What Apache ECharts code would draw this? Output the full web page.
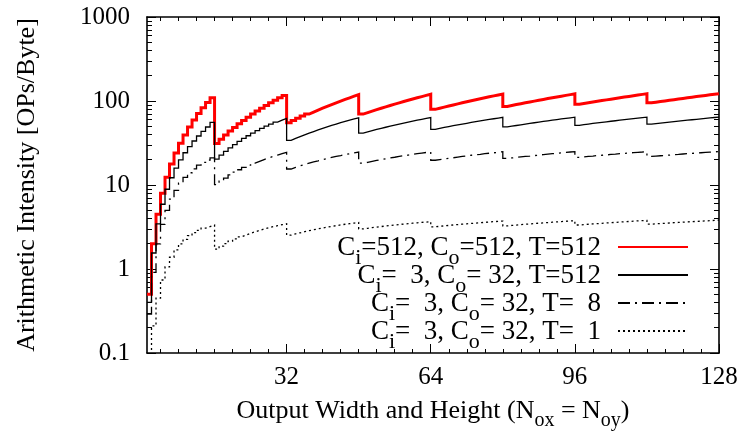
<!DOCTYPE html>
<html><head><meta charset="utf-8">
<script src="https://cdn.jsdelivr.net/npm/echarts@6/dist/echarts.min.js"></script>
<style>html,body{margin:0;padding:0;background:#fff}#c{width:746px;height:440px}</style>
</head><body><div id="c"></div>
<script>
const N = [1,2,3,4,5,6,7,8,9,10,11,12,13,14,15,16,17,18,19,20,21,22,23,24,25,26,27,28,29,30,31,32,
33,34,35,36,37,38,39,40,41,42,43,44,45,46,47,48,49,50,51,52,53,54,55,56,57,58,59,60,61,62,63,64,
65,66,67,68,69,70,71,72,73,74,75,76,77,78,79,80,81,82,83,84,85,86,87,88,89,90,91,92,93,94,95,96,
97,98,99,100,101,102,103,104,105,106,107,108,109,110,111,112,113,114,115,116,117,118,119,120,121,122,123,124,125,126,127,128];

const red = [0.5,2.0,4.5,7.95,12.4,17.8,24.1,31.3,39.4,48.9,59.5,70.9,83.0,96.0,109.5,
31.1,35.1,39.3,43.8,48.5,53.5,58.7,64.2,69.9,75.8,82.0,88.5,95.1,102.1,109.2,116.6,
55.2,58.7,62.4,66.1,69.9,73.8,77.9,82.0,86.3,90.7,95.1,99.7,104.4,109.2,114.1,119.1,
69.9,72.8,75.8,78.9,82.0,85.2,88.5,91.8,95.1,98.6,102.1,105.6,109.2,112.9,116.6,120.4,
79.5,82.0,84.6,87.2,89.8,92.4,95.1,97.9,100.7,103.5,106.3,109.2,112.1,115.1,118.1,121.2,
86.3,88.5,90.7,92.9,95.1,97.4,99.7,102.1,104.4,106.8,109.2,111.7,114.1,116.6,119.1,121.7,
91.3,93.2,95.1,97.1,99.1,101.1,103.1,105.1,107.1,109.2,111.3,113.4,115.6,117.7,119.9,122.1,
95.1,96.9,98.6,100.3,102.1,103.8,105.6,107.4,109.2,111.0,112.9,114.7,116.6,118.5,120.4,122.3,122.3];

const black = [0.40,1.55,3.45,5.9,8.9,12.2,15.9,19.9,24.2,28.7,33.4,38.3,43.4,49.0,55.6,
20.3,22.7,25.1,27.7,30.3,33.0,35.8,38.6,41.4,44.3,47.2,50.2,53.1,56.1,59.1,62.1,
33.9,35.8,37.6,39.5,41.4,43.3,45.3,47.2,49.2,51.1,53.1,55.1,57.1,59.1,61.1,63.1,
41.4,42.8,44.3,45.8,47.2,48.7,50.2,51.6,53.1,54.6,56.1,57.6,59.1,60.6,62.1,63.6,
46.0,47.2,48.4,49.6,50.8,51.9,53.1,54.3,55.5,56.7,57.9,59.1,60.3,61.5,62.7,63.9,
49.2,50.2,51.1,52.1,53.1,54.1,55.1,56.1,57.1,58.1,59.1,60.1,61.1,62.1,63.1,64.1,
51.4,52.3,53.1,54.0,54.8,55.7,56.5,57.4,58.2,59.1,59.9,60.8,61.7,62.5,63.4,64.2,
53.1,53.9,54.6,55.4,56.1,56.9,57.6,58.3,59.1,59.8,60.6,61.3,62.1,62.8,63.6,64.3,64.3];

const dashDot = [0.29,0.91,1.99,3.39,5.0,6.8,8.65,10.5,12.3,14.0,15.6,17.2,18.6,19.8,21.0,
10.1,11.1,12.1,13.2,14.2,15.2,16.2,17.2,18.2,19.1,20.1,21.0,21.9,22.7,23.6,24.4,
15.5,16.2,16.9,17.5,18.2,18.8,19.4,20.1,20.7,21.3,21.9,22.4,23.0,23.6,24.1,24.7,
18.2,18.6,19.1,19.6,20.1,20.5,21.0,21.4,21.9,22.3,22.7,23.1,23.6,24.0,24.4,24.8,
19.7,20.1,20.4,20.8,21.1,21.5,21.9,22.2,22.6,22.9,23.2,23.6,23.9,24.2,24.5,24.9,
20.7,21.0,21.3,21.6,21.9,22.1,22.4,22.7,23.0,23.3,23.6,23.8,24.1,24.4,24.7,24.9,
21.3,21.6,21.9,22.1,22.4,22.6,22.8,23.1,23.3,23.6,23.8,24.0,24.3,24.5,24.7,25.0,
21.9,22.1,22.3,22.5,22.7,22.9,23.1,23.4,23.6,23.8,24.0,24.2,24.4,24.6,24.8,25.0,25.0];

const dotted = [0.054,0.21,0.45,0.74,1.06,1.38,1.69,1.99,2.25,2.49,2.71,2.89,3.06,3.20,3.33,
1.72,1.87,2.01,2.15,2.28,2.41,2.54,2.66,2.77,2.88,2.99,3.09,3.19,3.28,3.37,3.45,
2.53,2.62,2.70,2.78,2.86,2.93,3.01,3.08,3.15,3.22,3.28,3.35,3.41,3.47,3.52,3.58,
3.00,3.05,3.11,3.16,3.20,3.25,3.30,3.34,3.39,3.43,3.47,3.51,3.55,3.59,3.62,3.66,
3.18,3.22,3.26,3.30,3.34,3.38,3.42,3.45,3.49,3.52,3.56,3.59,3.63,3.66,3.69,3.72,
3.26,3.30,3.33,3.37,3.41,3.44,3.47,3.51,3.54,3.57,3.61,3.64,3.67,3.70,3.73,3.76,
3.34,3.37,3.41,3.44,3.47,3.50,3.53,3.56,3.59,3.62,3.65,3.68,3.71,3.74,3.76,3.79,
3.42,3.45,3.48,3.50,3.53,3.56,3.58,3.61,3.64,3.66,3.69,3.71,3.74,3.76,3.79,3.81,3.81];

const xMajorTicks = [32, 64, 96, 128];
const xMinorTicks = [4,8,12,16,20,24,28,36,40,44,48,52,56,60,68,72,76,80,84,88,92,100,104,108,112,116,120,124];
const yMajorTicks = [0.1, 1, 10, 100, 1000];
const yMinorTicks = [0.2,0.3,0.4,0.5,0.6,0.7,0.8,0.9,2,3,4,5,6,7,8,9,20,30,40,50,60,70,80,90,200,300,400,500,600,700,800,900];
const seriesNames = ['Ci=512, Co=512, T=512', 'Ci=3, Co=32, T=512', 'Ci=3, Co=32, T=8', 'Ci=3, Co=32, T=1'];
const legendLabels = [
  '{n|C}{s|i}{n|=512, C}{s|o}{n|=512, T=512}',
  '{n|C}{s|i}{n|=  3, C}{s|o}{n|= 32, T=512}',
  '{n|C}{s|i}{n|=  3, C}{s|o}{n|= 32, T=  8}',
  '{n|C}{s|i}{n|=  3, C}{s|o}{n|= 32, T=  1}'
];
const xTitle = '{n|Output Width and Height (N}{s|ox}{n| = N}{s|oy}{n|)}';
const yTitle = 'Arithmetic Intensity [OPs/Byte]';

const F = "'Liberation Serif', 'Times New Roman', serif";
const richStyle = {
  n: {fontFamily: F, fontSize: 26, color: '#000', lineHeight: 26, verticalAlign: 'top'},
  s: {fontFamily: F, fontSize: 20, color: '#000', lineHeight: 20, verticalAlign: 'top', padding: [13, 0, 0, 0]}
};
const legendRich = {
  n: {fontFamily: F, fontSize: 27, color: '#000', lineHeight: 26, verticalAlign: 'top'},
  s: {fontFamily: F, fontSize: 22, color: '#000', lineHeight: 20, verticalAlign: 'top', padding: [13, 0, 0, 0]}
};
const lineAx = {show: true, onZero: false, lineStyle: {color: '#000', width: 1.6}};

function xAx(pos, major) {
  const a = {
    type: 'value', min: 1, max: 128, position: pos, gridIndex: 0,
    splitLine: {show: false},
    axisLine: major ? lineAx : {show: false, onZero: false},
    axisTick: {show: true, inside: true, length: major ? 9 : 4,
      customValues: major ? xMajorTicks : xMinorTicks, lineStyle: {color: '#000', width: 1}},
    axisLabel: {show: false}
  };
  if (major && pos === 'bottom') {
    a.axisLabel = {show: true, customValues: xMajorTicks, fontFamily: F, fontSize: 25, color: '#000', margin: 12};
    a.name = xTitle;
    a.nameLocation = 'middle';
    a.nameGap = 45;
    a.nameTextStyle = {fontFamily: F, fontSize: 26, color: '#000', rich: richStyle};
  }
  return a;
}
function yAx(pos, major) {
  const a = {
    type: 'log', logBase: 10, min: 0.1, max: 1000, position: pos, gridIndex: 0,
    splitLine: {show: false}, minorTick: {show: false},
    axisLine: major ? lineAx : {show: false, onZero: false},
    axisTick: {show: true, inside: true, length: major ? 9 : 5,
      customValues: major ? yMajorTicks : yMinorTicks, lineStyle: {color: '#000', width: 1}},
    axisLabel: {show: false}
  };
  if (major && pos === 'left') {
    a.axisLabel = {show: true, customValues: yMajorTicks, fontFamily: F, fontSize: 25, color: '#000', margin: 17,
      formatter: v => String(+Number(v).toPrecision(6))};
    a.name = yTitle;
    a.nameLocation = 'middle';
    a.nameGap = 107;
    a.nameRotate = 90;
    a.nameTextStyle = {fontFamily: F, fontSize: 26, color: '#000'};
  }
  return a;
}

const styles = [
  {color: '#ff0000', width: 3, type: 'solid', join: 'miter', cap: 'butt'},
  {color: '#000000', width: 1.3, type: 'solid', join: 'miter', cap: 'butt'},
  {color: '#000000', width: 1.3, type: [12, 5, 2, 5], join: 'miter', cap: 'butt'},
  {color: '#000000', width: 1.3, type: [2, 3], join: 'miter', cap: 'butt'}
];
const values = [red, black, dashDot, dotted];

const chart = echarts.init(document.getElementById('c'), null, {renderer: 'canvas'});
chart.setOption({
  animation: false,
  backgroundColor: '#fff',
  grid: {left: 147, right: 27, top: 17, bottom: 87, containLabel: false},
  xAxis: [xAx('bottom', true), xAx('bottom', false), xAx('top', true), xAx('top', false)],
  yAxis: [yAx('left', true), yAx('left', false), yAx('right', true), yAx('right', false)],
  legend: {
    data: seriesNames, orient: 'vertical', align: 'right', right: 52, top: 229,
    itemWidth: 70, itemHeight: 10, itemGap: -7, selectedMode: false,
    itemStyle: {opacity: 0, borderWidth: 0},
    formatter: name => legendLabels[seriesNames.indexOf(name)],
    textStyle: {fontFamily: F, fontSize: 27, color: '#000', rich: legendRich, padding: [0, 12, 0, 0]}
  },
  series: values.map((v, i) => ({
    name: seriesNames[i], type: 'line', step: 'end', xAxisIndex: 0, yAxisIndex: 0,
    symbol: 'none', showSymbol: false, clip: true,
    lineStyle: styles[i], itemStyle: {color: styles[i].color},
    data: N.map((n, k) => [n, v[k]])
  }))
});
</script></body></html>
